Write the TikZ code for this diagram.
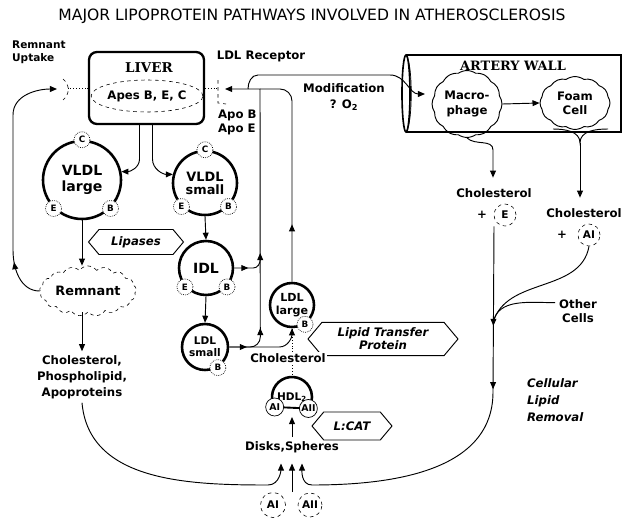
\documentclass[tikz,border=0pt]{standalone}
\usepackage{fontspec}
\setmainfont{DejaVu Sans}
\newfontfamily\serifbold{DejaVu Serif}
\usetikzlibrary{arrows.meta,shapes.geometric,shapes.symbols,decorations.markings}

\tikzset{
  txt/.style={font=\bfseries\fontsize{10}{12}\selectfont, align=center},
  link/.style={line width=0.8pt},
  arrowmid/.style={postaction={decorate,decoration={markings,
      mark=at position #1 with {\arrow{Triangle[length=6pt,width=5pt]}}}}},
  lipo/.style={circle, draw, line width=2.2pt, minimum size=#1, inner sep=0pt,
      align=center, font=\bfseries\fontsize{11}{11}\selectfont},
  badge/.style={circle, draw, densely dotted, line width=0.6pt, fill=white,
      minimum size=4.8mm, inner sep=0pt, font=\bfseries\fontsize{7.5}{8}\selectfont},
  freeapo/.style={circle, draw, dashed, line width=0.5pt, minimum size=#1,
      inner sep=0pt, font=\bfseries\fontsize{9}{10}\selectfont},
  enzyme/.style={signal, signal to=east and west, draw, line width=0.8pt,
      signal pointer angle=100, inner sep=1pt, align=center,
      font=\bfseries\itshape\fontsize{10}{11}\selectfont},
  blob/.style={cloud, draw, line width=0.8pt, cloud puffs=12, cloud puff arc=70,
      inner sep=0pt, align=center, font=\bfseries\fontsize{10}{12}\selectfont},
  wall/.style={line width=1.4pt}
}

\begin{document}
\begin{tikzpicture}[x=0.3mm, y=-0.3mm, >={Triangle[length=6pt,width=5pt]}]
\useasboundingbox (0,0) rectangle (623,518);

\node[font=\fontsize{13.3}{16}\selectfont] (title) at (312,16) {MAJOR LIPOPROTEIN PATHWAYS INVOLVED IN ATHEROSCLEROSIS};

% liver and its receptors
\node[draw, rounded corners=2.4mm, line width=2pt, minimum width=34.5mm, minimum height=21.6mm] (liver) at (146.5,88) {};
\node[font=\serifbold\bfseries\fontsize{11.5}{13}\selectfont] (livername) at (149,68) {LIVER};
\node[ellipse, draw, dashed, line width=0.5pt, minimum width=29mm, minimum height=9.6mm, inner sep=0pt, txt] (apos) at (147,96) {Apes B, E, C};
\node[txt, font=\bfseries\fontsize{9}{11}\selectfont, align=left, anchor=west] (remup) at (8,52) {Remnant\\Uptake};
\node[txt] (ldlrec) at (261,56) {LDL Receptor};
\node[txt, align=left, anchor=north west] (apobe) at (214,106) {Apo B\\Apo E};
\coordinate (recL) at (57,89);
\coordinate (recR) at (225,89);
\draw[dotted] (liver.west) -- (68,88);
\draw[dotted] (liver.east) -- (218,88);
\draw[dashed, line width=0.5pt] (63,79) .. controls (70,85) and (70,94) .. (63,100);
\draw[dashed, line width=0.5pt] (218,80) -- (218,103) -- (226,104);

% artery wall
\draw[wall] (406,55) -- (621,55) -- (621,132) -- (406,132);
\draw[wall] (406,93.5) ellipse [x radius=1.2mm, y radius=11.55mm];
\draw[line width=0.6pt] (406,55) .. controls (413,62) and (413,125) .. (406,132);
\node[font=\serifbold\bfseries\fontsize{11}{12}\selectfont] (artery) at (513,66) {ARTERY WALL};
\node[blob, minimum width=21mm, minimum height=10.5mm] (macro) at (467,104) {Macro-\\phage};
\node[blob, minimum width=21mm, minimum height=12mm] (foam) at (575,103) {Foam\\Cell};
\node[txt] (modif) at (344,97) {Modification\\[2pt]? O\textsubscript{2}};
\coordinate (wallin) at (425,94);

% lipoproteins
\node[lipo=23.4mm, font=\bfseries\fontsize{12}{13}\selectfont] (vldlL) at (82,180) {VLDL\\large};
\node[badge] (vldlLc) at (vldlL.90) {C};
\node[badge] (vldlLe) at (vldlL.-135) {E};
\node[badge] (vldlLb) at (vldlL.-45) {B};
\node[lipo=19.2mm] (vldlS) at (205,183) {VLDL\\small};
\node[badge] (vldlSc) at (vldlS.90) {C};
\node[badge] (vldlSe) at (vldlS.-135) {E};
\node[badge] (vldlSb) at (vldlS.-45) {B};
\node[lipo=16.2mm, font=\bfseries\fontsize{12}{13}\selectfont] (idl) at (206,268) {IDL};
\node[badge] (idle) at (idl.-138) {E};
\node[badge] (idlb) at (idl.-42) {B};
\node[lipo=13.8mm, font=\bfseries\fontsize{9}{10}\selectfont] (ldlS) at (205,347) {LDL\\small};
\node[badge] (ldlSb) at (ldlS.-58) {B};
\node[lipo=13.2mm, font=\bfseries\fontsize{9.5}{11}\selectfont] (ldlL) at (292,305) {LDL\\large};
\node[badge] (ldlLb) at (ldlL.-56) {B};
\node[circle, minimum size=12mm, inner sep=0pt, outer sep=0pt, font=\bfseries\fontsize{9}{10}\selectfont] (hdl) at (292,397) {HDL\textsubscript{2}};
\draw[line width=2.2pt] (hdl.210) arc[start angle=210, end angle=-30, radius=6mm];
\draw[line width=1.6pt] (hdl.-150) -- (hdl.-35);
\node[badge, solid, minimum size=5.4mm, font=\bfseries\fontsize{8}{9}\selectfont] (hdlai) at (hdl.-150) {AI};
\node[badge, solid, minimum size=5.4mm, font=\bfseries\fontsize{8}{9}\selectfont] (hdlaii) at (hdl.-35) {AII};

% remnant and other texts
\node[cloud, draw, dashed, line width=0.5pt, cloud puffs=17, cloud puff arc=110, aspect=2.2, minimum width=29mm, minimum height=14mm, inner sep=0pt, font=\bfseries\fontsize{11}{12}\selectfont] (remnant) at (88,291) {Remnant};
\node[txt, font=\bfseries\fontsize{10}{13.6}\selectfont] (choltxt) at (82,377) {Cholesterol,\\Phospholipid,\\Apoproteins};
\node[enzyme, minimum width=28.5mm, minimum height=7.5mm] (lipases) at (136,242) {Lipases};
\node[enzyme, minimum width=45mm, minimum height=10mm] (ltp) at (383,339) {Lipid Transfer\\Protein};
\node[enzyme, minimum width=24mm, minimum height=8.4mm] (lcat) at (352,426) {L:CAT};
\node[txt] (disks) at (292,447) {Disks,Spheres};
\node[freeapo=7.5mm] (bai) at (273,505) {AI};
\node[freeapo=7.2mm] (baii) at (310,505) {AII};

% cellular removal side
\node[txt] (chol1) at (494,193) {Cholesterol};
\node[txt] (eplus) at (482,215) {+};
\node[freeapo=6.6mm] (ee) at (505,215) {E};
\node[txt] (chol2) at (584,213) {Cholesterol};
\node[txt] (aplus) at (562,235) {+};
\node[freeapo=6.6mm] (aai) at (589,235) {AI};
\node[txt] (othr) at (578,311) {Other\\Cells};
\node[txt, font=\bfseries\itshape\fontsize{10}{14.5}\selectfont, align=left, anchor=west] (cellrem) at (523,400) {Cellular\\Lipid\\Removal};
\coordinate (merge) at (493,323);
\coordinate (fy) at (580,143);

% liver to vldl
\draw[link,->] (liver.south) ++(-7,0) -- ++(0,34) to[out=-90,in=0] (vldlL.12);
\draw[link,->] (liver.south) ++(6,0) -- ++(0,34) to[out=-90,in=180] (vldlS.165);
\draw[link,->] (vldlL.south) -- (vldlL.south |- remnant.north);
\draw[link,->] (vldlS.south) -- (idl.north);
\draw[link,->] (idl.south) -- (ldlS.north);
\draw[link,->] (remnant.south -| vldlL.south) -- (choltxt.north -| vldlL.south);
\draw[link, arrowmid=36pt, ->] (remnant.west) to[out=180,in=-90] (13,250) -- (13,115) to[out=90,in=180] (recL);

% ldl return to liver
\draw[link, arrowmid=15pt, arrowmid=39pt, arrowmid=103pt, ->] (ldlS.east) -- ++(21,0) to[out=0,in=-90] ++(10,-10) -- (260,89) -- (recR);
\draw[link, arrowmid=12pt] (idl.east) -- ++(19,0) to[out=0,in=-90] ++(7,-9);
\draw[link,->] (ldlS.east) -- ++(50,0) to[out=0,in=-90] (ldlL.south);
\draw[link, arrowmid=49pt] (ldlL.north) -- (292,101) to[out=90,in=0] (280,89) -- (260,89);
\draw[link,->] (248,89) to[out=90,in=180] (258,75) -- (390,75) to[out=0,in=180] (wallin);
\draw[dotted] (hdl.north) -- (ldlL.south);
\node[txt, fill=white, inner sep=1pt] (cholldl) at (288,358) {Cholesterol};

% artery wall outputs
\draw[link,->] (macro.east) -- (foam.west);
\draw[link,->, shorten >=2mm] (macro.south) to[out=-45,in=90] (493,150) -- (chol1.north -| 493,0);
\draw[link] (553,129) to[out=0,in=90] (fy) to[out=90,in=180] (608,129);
\draw[link,->, shorten >=2mm] (fy) -- (fy |- chol2.north);
\draw[link] (aai.south) to[out=-100,in=75] (merge);
\draw[link] ([yshift=2.5mm]othr.west) to[out=180,in=80] (merge);
\draw[link, arrowmid=85pt, arrowmid=139pt, ->, shorten >=2mm] (chol1.south |- ee.south) -- (493,392) to[out=-90,in=0] (312,485) to[out=180,in=-90] ([xshift=3mm]disks.south);

% hdl formation
\draw[link,->, shorten >=2mm] (choltxt.south) to[out=-85,in=180] (268,485) to[out=0,in=-90] ([xshift=-3.3mm]disks.south);
\draw[link,->, shorten >=2mm] (disks.south |- bai.north) -- (disks.south);
\draw[link,->] (disks.north) -- (hdl.south);
\end{tikzpicture}
\end{document}
